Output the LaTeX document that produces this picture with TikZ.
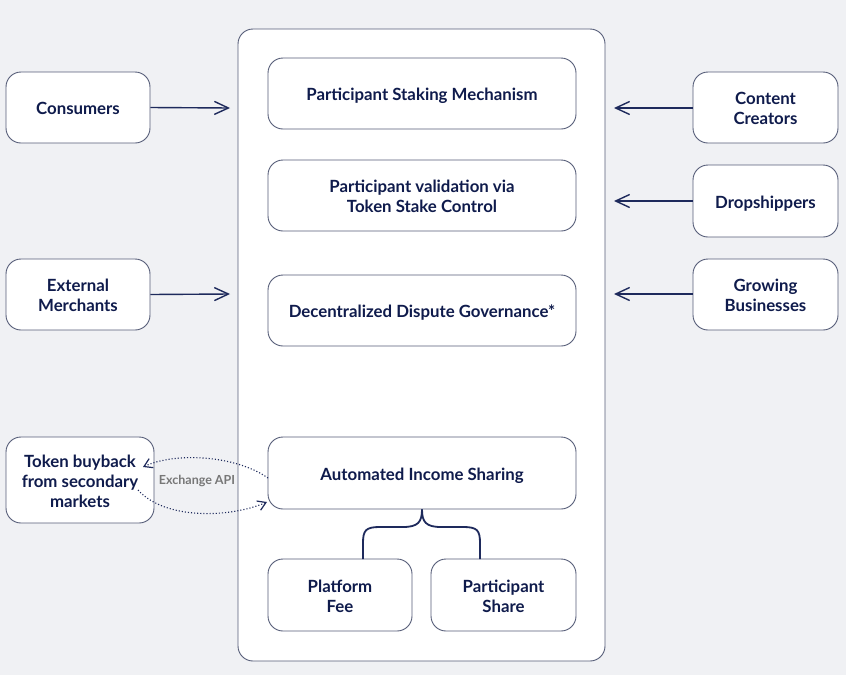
\documentclass[tikz,border=0pt]{standalone}
\usepackage{fontspec}
\setmainfont{Lato}
\usetikzlibrary{arrows.meta}
\definecolor{bgc}{HTML}{F0F1F4}
\definecolor{txt}{HTML}{0F1B4C}
\definecolor{edge}{HTML}{565D78}
\definecolor{arrc}{HTML}{1E2A5C}
\definecolor{lbl}{HTML}{777777}
\tikzset{
  box/.style={draw=edge, line width=0.9pt, fill=white, rounded corners=15pt, inner sep=0pt},
  btxt/.style={inner sep=0pt, align=center, text=txt, font=\fontsize{16.8}{20}\selectfont\bfseries},
  one/.style={box, label={[btxt, text height=12.5pt, text depth=3.5pt, yshift=-2.5pt]center:{#1}}},
  two/.style={box, label={[btxt, yshift=-1pt]center:{#1}}},
  arr/.style={draw=arrc, line width=1.4pt, -{Straight Barb[length=14pt,width=13pt,line width=1.4pt]}},
  dotarr/.style={draw=arrc, line width=1.1pt, dotted, -{Straight Barb[length=8pt,width=10pt,line width=1.2pt]}},
  bracel/.style={draw=arrc, line width=1.8pt},
}
\begin{document}
\begin{tikzpicture}[x=1pt,y=-1pt]
\fill[bgc] (0,0) rectangle (846,675);
\useasboundingbox (0,0) rectangle (846,675);
% container
\node[box, minimum width=367pt, minimum height=632pt] (main) at (421.5,345) {};
% inner boxes
\node[one={Participant Staking Mechanism}, minimum width=308pt, minimum height=71pt] (stake) at (422,93.5) {};
\node[two={Participant validation via\\Token Stake Control}, minimum width=308pt, minimum height=71pt] (valid) at (422,195.5) {};
\node[one={Decentralized Dispute Governance*}, minimum width=308pt, minimum height=71pt] (disp) at (422,310.5) {};
\node[one={Automated Income Sharing}, minimum width=308pt, minimum height=72pt] (inc) at (422,473) {};
\node[two={Platform\\Fee}, minimum width=144pt, minimum height=72pt] (pf) at (340,595) {};
\node[two={Participant\\Share}, minimum width=145pt, minimum height=72pt] (ps) at (503.5,595) {};
% left boxes
\node[one={Consumers}, minimum width=144pt, minimum height=71pt] (cons) at (78,107.5) {};
\node[two={External\\Merchants}, minimum width=144pt, minimum height=71pt] (merch) at (78,294.5) {};
\node[two={Token buyback\\from secondary\\markets}, minimum width=148pt, minimum height=86pt] (tok) at (80,480) {};
% right boxes
\node[two={Content\\Creators}, minimum width=145pt, minimum height=71pt] (cc) at (765.5,107.5) {};
\node[one={Dropshippers}, minimum width=145pt, minimum height=72pt] (drop) at (765.5,201) {};
\node[two={Growing\\Businesses}, minimum width=145pt, minimum height=71pt] (grow) at (765.5,294.5) {};
% arrow ends
\coordinate (e1) at (230,108);
\coordinate (e2) at (230,294);
\coordinate (e3) at (614,108);
\coordinate (e4) at (614,201);
\coordinate (e5) at (614,294);
\draw[arr] (cons.east) -- (e1);
\draw[arr] (merch.east) -- (e2);
\draw[arr] (cc.west |- e3) -- (e3);
\draw[arr] (drop.west) -- (e4);
\draw[arr] (grow.west |- e5) -- (e5);
% exchange api
\coordinate (u1) at (268,478);
\coordinate (u2) at (143,467);
\coordinate (l1) at (138,490);
\coordinate (l2) at (267,502);
\draw[dotarr] (u1) .. controls (235,455) and (175,452) .. (u2);
\draw[dotarr] (l1) .. controls (165,520) and (230,518) .. (l2);
\node[text=lbl, font=\fontsize{12.5}{14}\selectfont\bfseries] (api) at (197,481) {Exchange API};
% brace
\coordinate (bt) at (inc.south);
\coordinate (bl) at (363,559);
\coordinate (br) at (480,559);
\draw[bracel] (bl) -- (363,543) .. controls (363,530) and (366,527) .. (380,527) -- (403,527) .. controls (418,527) and (422,522) .. (bt);
\draw[bracel] (br) -- (480,543) .. controls (480,530) and (477,527) .. (463,527) -- (441,527) .. controls (426,527) and (422,522) .. (bt);
\end{tikzpicture}
\end{document}
